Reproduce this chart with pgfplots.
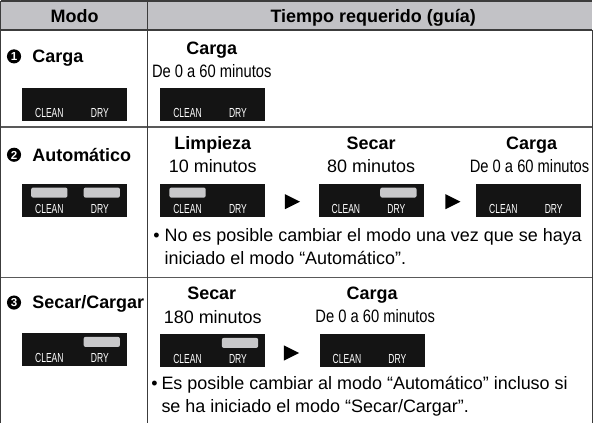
\documentclass[border=0pt]{standalone}
\usepackage{fontspec}
\setmainfont{Liberation Sans}
\newfontfamily\cond[FakeStretch=0.82]{Liberation Sans}
\newfontfamily\lcd[FakeStretch=0.65]{Liberation Sans}
\usepackage{pgfplots}
\pgfplotsset{compat=1.18}
\definecolor{hdr}{RGB}{194,194,198}
\definecolor{pill}{RGB}{200,200,202}
\definecolor{rulec}{RGB}{60,60,60}
\newcommand{\fs}[1]{\fontsize{#1bp}{#1bp}\selectfont}
% panel: x, y (top-left), clean on (1/0), dry on (1/0)
\newcommand{\panel}[4]{%
  \fill[black!92] (axis cs:#1,#2) rectangle (axis cs:{#1+104},{#2+33});
  \ifnum#3=1 \fill[pill,rounded corners=2bp] (axis cs:{#1+9},{#2+4}) rectangle (axis cs:{#1+45},{#2+14});\fi
  \ifnum#4=1 \fill[pill,rounded corners=2bp] (axis cs:{#1+61},{#2+4}) rectangle (axis cs:{#1+97},{#2+14});\fi
  \node[white,anchor=base,inner sep=0pt,font=\lcd\fs{13}] at (axis cs:{#1+27},{#2+29.5}) {CLEAN};
  \node[white,anchor=base,inner sep=0pt,font=\lcd\fs{13}] at (axis cs:{#1+77},{#2+29.5}) {DRY};
}
\newcommand{\tri}[2]{\fill[black] (axis cs:{#1-7.5},{#2-7.5}) -- (axis cs:{#1+7.5},{#2}) -- (axis cs:{#1-7.5},{#2+7.5}) -- cycle;}
\newcommand{\num}[3]{\fill[black] (axis cs:#1,#2) circle[radius=7bp];
  \node[white,inner sep=0pt,font=\bfseries\fs{11.5}] at (axis cs:#1,{#2+0.3}) {#3};}
\begin{document}
\begin{tikzpicture}
\begin{axis}[
  scale only axis, width=593bp, height=425bp,
  xmin=0, xmax=593, ymin=0, ymax=425, y dir=reverse,
  hide axis, clip=false]
% header
\fill[hdr] (axis cs:5,7) rectangle (axis cs:591,36);
% grid lines
\draw[rulec,line width=1.8bp] (axis cs:5,7) -- (axis cs:591,7);
\draw[rulec,line width=1.8bp] (axis cs:5,36) -- (axis cs:591,36);
\draw[rulec!85,line width=1.5bp] (axis cs:5,132) -- (axis cs:591,132);
\draw[rulec!85,line width=1.5bp] (axis cs:5,281) -- (axis cs:591,281);
\draw[rulec,line width=1bp] (axis cs:5,7) -- (axis cs:5,425);
\draw[rulec,line width=1bp] (axis cs:150,7) -- (axis cs:150,425);
\draw[rulec,line width=1bp] (axis cs:591,36) -- (axis cs:591,425);
% header text
\node[anchor=base,inner sep=0pt,font=\bfseries\fs{17.8}] at (axis cs:78,28) {Modo};
\node[anchor=base,inner sep=0pt,font=\bfseries\fs{17.8}] at (axis cs:374,28) {Tiempo requerido (guía)};
% row 1
\num{18}{62}{1}
\node[anchor=base west,inner sep=0pt,font=\bfseries\fs{17.8}] at (axis cs:36,68) {Carga};
\panel{26}{93}{0}{0}
\node[anchor=base,inner sep=0pt,font=\bfseries\fs{17.8}] at (axis cs:214,60) {Carga};
\node[anchor=base,inner sep=0pt,font=\cond\fs{17.8}] at (axis cs:214,83) {De 0 a 60 minutos};
\panel{163}{93}{0}{0}
% row 2
\num{18}{159.5}{2}
\node[anchor=base west,inner sep=0pt,font=\bfseries\fs{17.8}] at (axis cs:36,166) {Automático};
\panel{26}{188}{1}{1}
\node[anchor=base,inner sep=0pt,font=\bfseries\fs{17.8}] at (axis cs:215,154) {Limpieza};
\node[anchor=base,inner sep=0pt,font=\fs{17.8}] at (axis cs:215,177) {10 minutos};
\node[anchor=base,inner sep=0pt,font=\bfseries\fs{17.8}] at (axis cs:372,154) {Secar};
\node[anchor=base,inner sep=0pt,font=\fs{17.8}] at (axis cs:372,177) {80 minutos};
\node[anchor=base,inner sep=0pt,font=\bfseries\fs{17.8}] at (axis cs:531,154) {Carga};
\node[anchor=base,inner sep=0pt,font=\cond\fs{17.8}] at (axis cs:529,177) {De 0 a 60 minutos};
\panel{163}{188}{1}{0}
\tri{294}{206}
\panel{320}{188}{0}{1}
\tri{453}{206}
\panel{476}{188}{0}{0}
\node[anchor=base west,inner sep=0pt,font=\fs{17.8}] at (axis cs:156,245) {•};
\node[anchor=base west,inner sep=0pt,font=\fs{17.8}] at (axis cs:167,245) {No es posible cambiar el modo una vez que se haya};
\node[anchor=base west,inner sep=0pt,font=\fs{17.8}] at (axis cs:167,268) {iniciado el modo “Automático”.};
% row 3
\num{18}{306}{3}
\node[anchor=base west,inner sep=0pt,font=\bfseries\fs{17.8}] at (axis cs:36,312) {Secar/Cargar};
\panel{26}{336}{0}{1}
\node[anchor=base,inner sep=0pt,font=\bfseries\fs{17.8}] at (axis cs:214,303) {Secar};
\node[anchor=base,inner sep=0pt,font=\fs{17.8}] at (axis cs:215,327) {180 minutos};
\node[anchor=base,inner sep=0pt,font=\bfseries\fs{17.8}] at (axis cs:373,303) {Carga};
\node[anchor=base,inner sep=0pt,font=\cond\fs{17.8}] at (axis cs:376,326) {De 0 a 60 minutos};
\panel{163}{337}{0}{1}
\tri{293}{356}
\panel{321}{337}{0}{0}
\node[anchor=base west,inner sep=0pt,font=\fs{17.8}] at (axis cs:154,392) {•};
\node[anchor=base west,inner sep=0pt,font=\fs{17.8}] at (axis cs:164,392) {Es posible cambiar al modo “Automático” incluso si};
\node[anchor=base west,inner sep=0pt,font=\fs{17.8}] at (axis cs:164,415) {se ha iniciado el modo “Secar/Cargar”.};
\end{axis}
\end{tikzpicture}
\end{document}
